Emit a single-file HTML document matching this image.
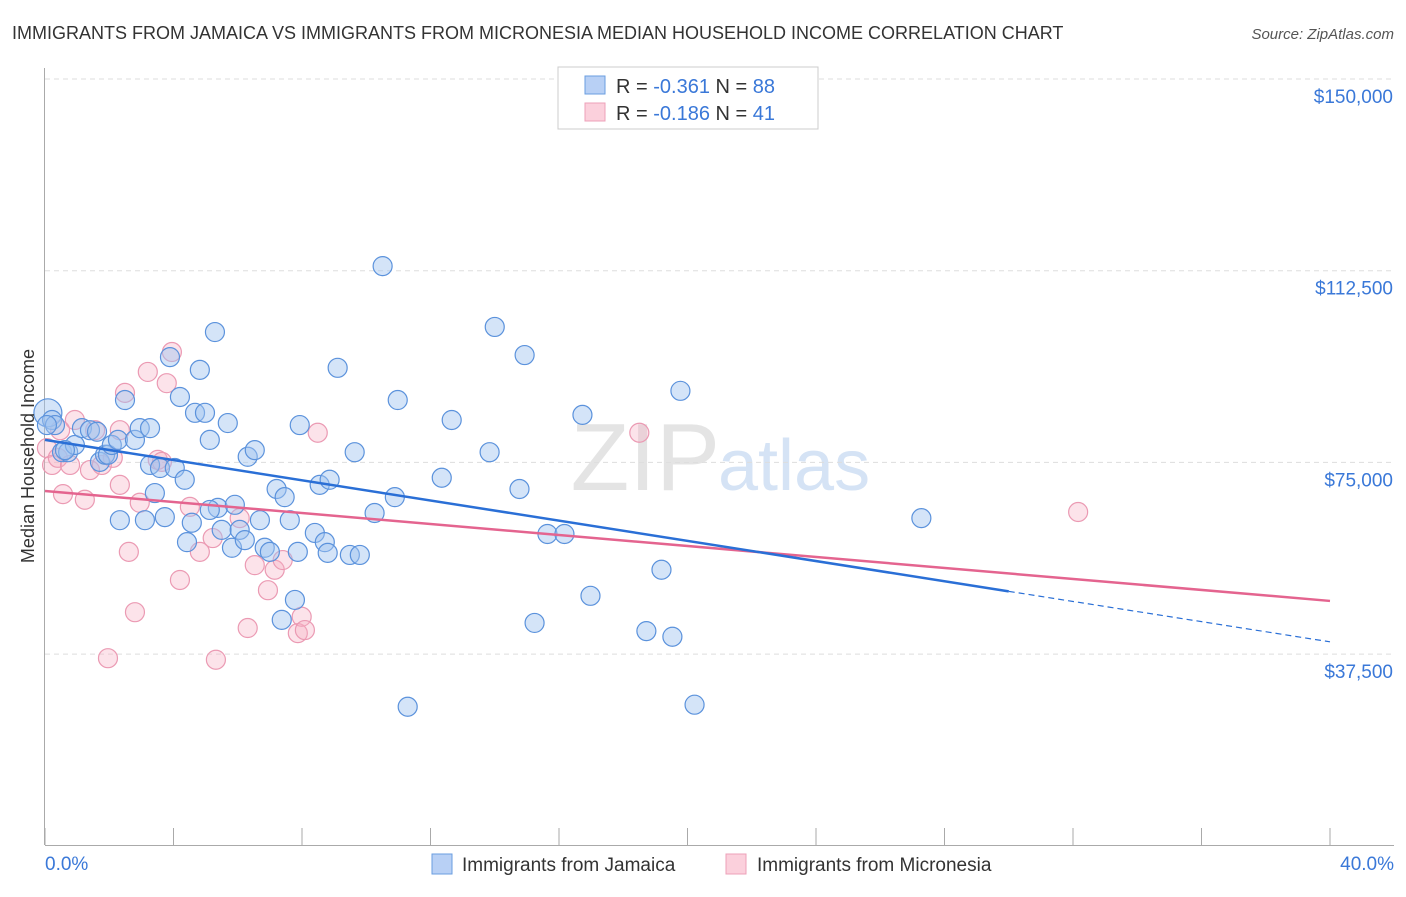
<!DOCTYPE html>
<html><head><meta charset="utf-8"><style>
body{margin:0;background:#fff;font-family:"Liberation Sans",sans-serif;}
svg text{font-family:"Liberation Sans",sans-serif;}
</style></head><body>
<svg id="chart" width="1406" height="892" xmlns="http://www.w3.org/2000/svg">
<text x="12" y="39" font-size="18" fill="#333">IMMIGRANTS FROM JAMAICA VS IMMIGRANTS FROM MICRONESIA MEDIAN HOUSEHOLD INCOME CORRELATION CHART</text>
<text x="1394" y="39" font-size="15" fill="#555" text-anchor="end" font-style="italic">Source: ZipAtlas.com</text>
<text x="720" y="490" font-size="96" fill="#e4e4e4" text-anchor="end" font-family="Liberation Serif">ZIP</text>
<text x="718" y="490" font-size="72" fill="#d5e3f5">atlas</text>
<g id="grid"></g>
<g id="axes"></g>
<g id="pink"></g>
<g id="blue"></g>
<g id="trends"></g>
<text transform="translate(34,456) rotate(-90)" font-size="18" fill="#333" text-anchor="middle">Median Household Income</text>
<g>
<rect x="558" y="67" width="260" height="62" fill="#fff" stroke="#ccc"/>
<rect x="585" y="76" width="20" height="18" fill="#b8d0f5" stroke="#6a9ee0"/>
<rect x="585" y="103" width="20" height="18" fill="#fbd0dc" stroke="#eea0b8"/>
<text x="616" y="93" font-size="20" fill="#333">R = <tspan fill="#3a78d8">-0.361</tspan>   N = <tspan fill="#3a78d8">88</tspan></text>
<text x="616" y="120" font-size="20" fill="#333">R = <tspan fill="#3a78d8">-0.186</tspan>   N =  <tspan fill="#3a78d8">41</tspan></text>
</g>
<g>
<rect x="432" y="854" width="20" height="20" fill="#b8d0f5" stroke="#6a9ee0"/>
<text x="462" y="871" font-size="19" fill="#333">Immigrants from Jamaica</text>
<rect x="726" y="854" width="20" height="20" fill="#fbd0dc" stroke="#eea0b8"/>
<text x="757" y="871" font-size="19" fill="#333">Immigrants from Micronesia</text>
</g>
</svg>
<script>
const yTicks=[150000,112500,75000,37500];
const yTickLabels=["$150,000","$112,500","$75,000","$37,500"];
const xTickVals=[0,4,8,12,16,20,24,28,32,36,40];
const xEndLabels=["0.0%","40.0%"];
const blueData=[[0.09,84.7],[0.22,83.3],[0.31,82.3],[0.53,77.0],[0.72,77.0],[0.93,78.4],[1.15,81.7],[1.4,81.3],[1.62,81.0],[1.71,75.1],[1.87,76.5],[1.96,76.5],[2.08,78.4],[2.27,79.4],[2.49,87.2],[2.8,79.4],[2.95,81.7],[3.27,74.5],[3.42,69.0],[3.11,63.7],[3.58,73.9],[3.73,64.3],[3.89,95.6],[4.04,73.9],[4.2,87.8],[4.35,71.6],[4.42,59.4],[4.57,63.2],[4.67,84.7],[4.82,93.1],[4.98,84.7],[5.13,79.4],[5.29,100.5],[5.38,66.1],[5.5,61.8],[5.69,82.7],[5.82,58.3],[5.91,66.7],[6.06,61.8],[6.22,59.8],[6.31,76.1],[6.53,77.4],[6.69,63.7],[6.84,58.3],[7.0,57.5],[7.21,69.8],[7.37,44.2],[7.46,68.2],[7.62,63.7],[7.78,48.1],[7.87,57.5],[7.93,82.3],[8.4,61.2],[8.55,70.6],[8.71,59.4],[8.8,57.3],[9.11,93.5],[9.49,56.9],[9.64,77.0],[9.8,56.9],[10.26,65.1],[10.51,113.4],[10.89,68.2],[10.98,87.2],[11.29,27.2],[12.35,72.0],[12.66,83.3],[13.84,77.0],[14.0,101.5],[14.77,69.8],[14.93,96.0],[15.24,43.6],[15.64,61.0],[16.17,61.0],[16.73,84.3],[16.98,48.9],[18.72,42.0],[19.19,54.0],[19.53,40.9],[19.78,89.0],[20.22,27.6],[27.28,64.1],[0.06,82.3],[0.62,77.4],[2.33,63.7],[5.13,65.7],[3.27,81.7],[8.86,71.6]];
const pinkData=[[0.06,77.8],[0.22,74.5],[0.4,75.9],[0.56,68.8],[0.78,74.5],[0.93,83.3],[1.24,67.7],[1.4,73.5],[1.56,81.3],[1.77,74.5],[1.96,36.7],[2.11,75.9],[2.33,70.6],[2.49,88.6],[2.61,57.5],[2.8,45.7],[2.95,67.1],[3.2,92.7],[3.51,75.5],[3.64,75.1],[3.79,90.5],[3.95,96.6],[4.2,52.0],[4.51,66.3],[4.82,57.5],[5.22,60.2],[5.32,36.4],[6.06,64.1],[6.31,42.6],[6.53,54.9],[6.94,50.0],[7.15,54.0],[7.4,55.9],[7.87,41.6],[7.99,44.8],[8.09,42.2],[8.49,80.8],[18.5,80.8],[32.16,65.3],[2.33,81.3],[0.47,81.3]];
const blueTrend=[79.4,39.9];
const pinkTrend=[69.4,47.9];
const blueSolidEnd=30;
const NS="http://www.w3.org/2000/svg";
const X=p=>45+p/40*1285;
const Y=v=>79+(150000-v)/37500*191.7;
function mk(tag,attrs,parent){const e=document.createElementNS(NS,tag);for(const k in attrs)e.setAttribute(k,attrs[k]);parent.appendChild(e);return e;}
const grid=document.getElementById('grid'),axes=document.getElementById('axes');
yTicks.forEach((t,i)=>{
 const l=mk('line',{x1:45,x2:1394,y1:Y(t),y2:Y(t),stroke:'#ddd','stroke-dasharray':'5,4'},grid);
 
 
 const tx=mk('text',{x:1393,y:Y(t)+24,'font-size':19,fill:'#3a78d8','text-anchor':'end'},axes);
 tx.textContent=yTickLabels[i];
 
 
});
const ya=mk('line',{x1:44.5,x2:44.5,y1:68,y2:845,stroke:'#aaa'},axes);


const xa=mk('line',{x1:45,x2:1394,y1:845.5,y2:845.5,stroke:'#aaa'},axes);


xTickVals.forEach(v=>{
 const t=mk('line',{x1:X(v),x2:X(v),y1:828,y2:845,stroke:'#aaa'},axes);
 
 
});
const xl0=mk('text',{x:45,y:870,'font-size':19,fill:'#3a78d8'},axes);xl0.textContent=xEndLabels[0];


const xl1=mk('text',{x:1394,y:870,'font-size':19,fill:'#3a78d8','text-anchor':'end'},axes);xl1.textContent=xEndLabels[1];


function pts(data,g,fill,stroke,name){data.forEach((d,i)=>{
 const r=(name==='jamaica-point'&&i===0)?14:9.5;
 const c=mk('circle',{cx:X(d[0]),cy:Y(d[1]*1000),r:r,fill:fill,stroke:stroke,'stroke-width':1.2},g);
 
 
});}
pts(pinkData,document.getElementById('pink'),'rgba(246,175,196,0.35)','#eb9ab3','micronesia-point');
pts(blueData,document.getElementById('blue'),'rgba(160,195,240,0.45)','#5b92dc','jamaica-point');
const tr=document.getElementById('trends');
const bAt=p=>(blueTrend[0]+(blueTrend[1]-blueTrend[0])*p/40)*1000;
const pAt=p=>(pinkTrend[0]+(pinkTrend[1]-pinkTrend[0])*p/40)*1000;
const pl=mk('line',{x1:X(0),y1:Y(pAt(0)),x2:X(40),y2:Y(pAt(40)),stroke:'#e4648f','stroke-width':2.5},tr);


const bl=mk('line',{x1:X(0),y1:Y(bAt(0)),x2:X(blueSolidEnd),y2:Y(bAt(blueSolidEnd)),stroke:'#2a6fd6','stroke-width':2.5},tr);


const bd=mk('line',{x1:X(blueSolidEnd),y1:Y(bAt(blueSolidEnd)),x2:X(40),y2:Y(bAt(40)),stroke:'#2a6fd6','stroke-width':1.2,'stroke-dasharray':'6,4'},tr);


</script>
</body></html>
